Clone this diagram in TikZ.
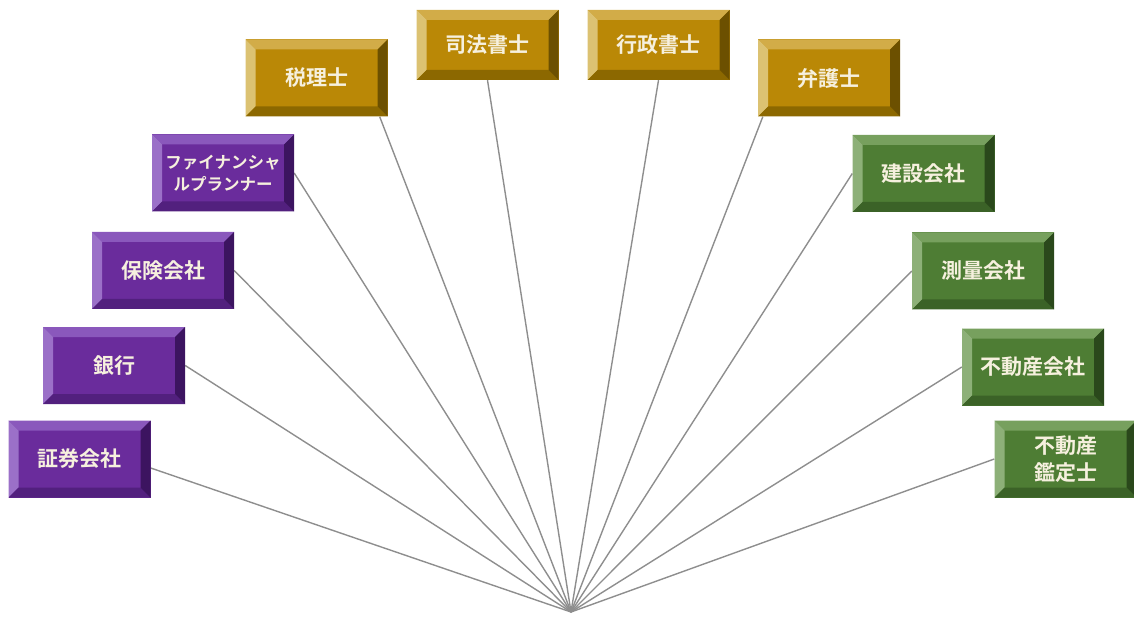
\documentclass[tikz,border=0pt]{standalone}
\usepackage{fontspec}
\setmainfont{Noto Sans CJK JP}[BoldFont={Noto Sans CJK JP Bold}]
\usetikzlibrary{backgrounds}
\definecolor{txt}{HTML}{F6F0DE}
\definecolor{pface}{HTML}{6A2C9C}
\definecolor{ptop}{HTML}{8A58BC}
\definecolor{pleft}{HTML}{9B70C8}
\definecolor{pbot}{HTML}{52207E}
\definecolor{pright}{HTML}{3C1460}
\definecolor{gface}{HTML}{BA8806}
\definecolor{gtop}{HTML}{D2AC48}
\definecolor{gleft}{HTML}{DCC272}
\definecolor{gbot}{HTML}{8C6800}
\definecolor{gright}{HTML}{6C5000}
\definecolor{vface}{HTML}{4E7D34}
\definecolor{vtop}{HTML}{77A05E}
\definecolor{vleft}{HTML}{8DB078}
\definecolor{vbot}{HTML}{3B6227}
\definecolor{vright}{HTML}{2A481B}
\definecolor{wire}{HTML}{8E8E8E}
\tikzset{
  bevbox/.style n args={5}{draw=none, fill=#1, minimum width=142pt, minimum height=77pt,
    inner sep=0pt, text=txt, font=\fontsize{21}{25}\selectfont\bfseries, align=center,
    path picture={
      \fill[#2] (path picture bounding box.north west) -- (path picture bounding box.north east)
        -- ([xshift=-10pt,yshift=-10pt]path picture bounding box.north east)
        -- ([xshift=10pt,yshift=-10pt]path picture bounding box.north west) -- cycle;
      \fill[#3] (path picture bounding box.north west) -- ([xshift=10pt,yshift=-10pt]path picture bounding box.north west)
        -- ([xshift=10pt,yshift=10pt]path picture bounding box.south west)
        -- (path picture bounding box.south west) -- cycle;
      \fill[#4] (path picture bounding box.south west) -- ([xshift=10pt,yshift=10pt]path picture bounding box.south west)
        -- ([xshift=-10pt,yshift=10pt]path picture bounding box.south east)
        -- (path picture bounding box.south east) -- cycle;
      \fill[#5] (path picture bounding box.north east) -- (path picture bounding box.south east)
        -- ([xshift=-10pt,yshift=10pt]path picture bounding box.south east)
        -- ([xshift=-10pt,yshift=-10pt]path picture bounding box.north east) -- cycle;
    }},
  pbox/.style={bevbox={pface}{ptop}{pleft}{pbot}{pright}},
  gbox/.style={bevbox={gface}{gtop}{gleft}{gbot}{gright}},
  vbox/.style={bevbox={vface}{vtop}{vleft}{vbot}{vright}},
  link/.style={draw=wire, line width=1.4pt}
}
\begin{document}
\begin{tikzpicture}[x=1pt, y=-1pt]
\useasboundingbox (0,0) rectangle (1134,617);
\coordinate (hub) at (571,612);
\node[pbox] (sk) at (79.5,459) {証券会社};
\node[pbox] (gk) at (114,365.5) {銀行};
\node[pbox] (hk) at (163,270.5) {保険会社};
\node[pbox, font=\fontsize{16.5}{22}\selectfont\bfseries] (fp) at (223,173) {ファイナンシャ\\ルプランナー};
\node[gbox] (zr) at (316.5,78) {税理士};
\node[gbox, minimum height=70pt] (sh) at (487.5,45) {司法書士};
\node[gbox, minimum height=70pt] (gs) at (658.5,45) {行政書士};
\node[gbox] (bg) at (829,78) {弁護士};
\node[vbox] (kk) at (923.5,173.5) {建設会社};
\node[vbox] (sr) at (983,271) {測量会社};
\node[vbox] (fd) at (1033,367) {不動産会社};
\node[vbox, font=\fontsize{21}{27}\selectfont\bfseries] (ft) at (1065.5,459) {不動産\\鑑定士};
\begin{scope}[on background layer]
\draw[link] (hub) -- ([yshift=-9pt]sk.east);
\draw[link] (hub) -- (gk.east);
\draw[link] (hub) -- (hk.east);
\draw[link] (hub) -- (fp.east);
\draw[link] (hub) -- ([xshift=-8pt]zr.south east);
\draw[link] (hub) -- (sh.south);
\draw[link] (hub) -- (gs.south);
\draw[link] (hub) -- ([xshift=5pt]bg.south west);
\draw[link] (hub) -- (kk.west);
\draw[link] (hub) -- (sr.west);
\draw[link] (hub) -- (fd.west);
\draw[link] (hub) -- (ft.west);
\end{scope}
\end{tikzpicture}
\end{document}
